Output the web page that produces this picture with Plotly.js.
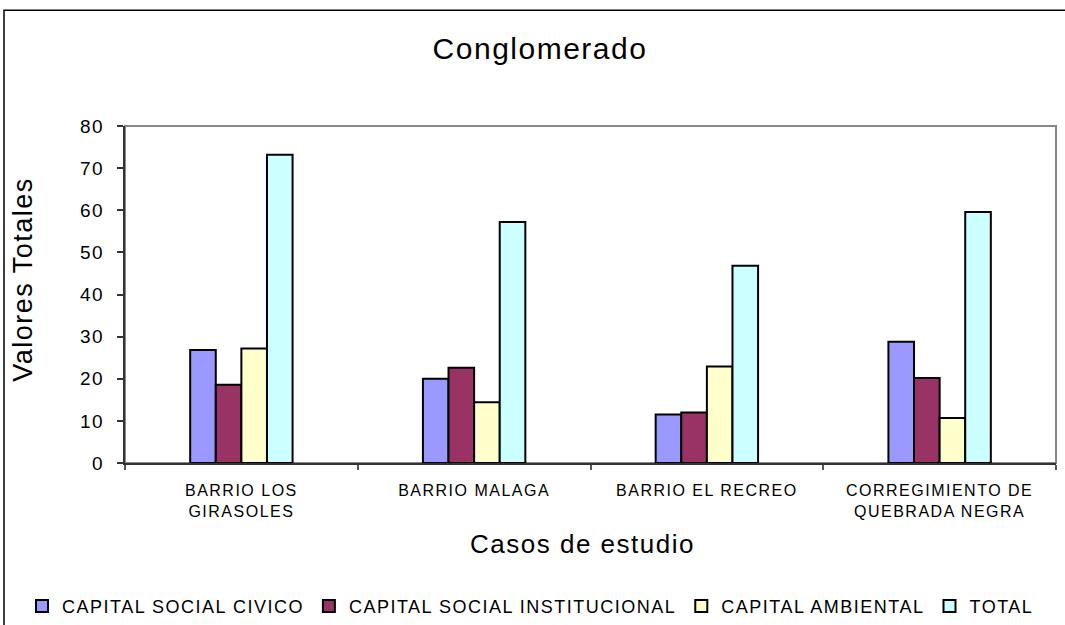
<!DOCTYPE html>
<html>
<head>
<meta charset="utf-8">
<script src="https://cdn.plot.ly/plotly-3.0.1.min.js"></script>
<style>
  html, body { margin: 0; padding: 0; background: #fff; }
  #chart { width: 1065px; height: 625px; }
  svg text { letter-spacing: 1.5px; }
</style>
</head>
<body>
<div id="chart"></div>
<script>
const categories = [
  "BARRIO LOS<br>GIRASOLES",
  "BARRIO MALAGA",
  "BARRIO EL RECREO",
  "CORREGIMIENTO DE<br>QUEBRADA NEGRA"
];
const seriesNames = [
  "CAPITAL SOCIAL CIVICO",
  "CAPITAL SOCIAL INSTITUCIONAL",
  "CAPITAL AMBIENTAL",
  "TOTAL"
];
const civico        = [26.8, 20.0, 11.5, 28.8];
const institucional = [18.6, 22.6, 12.0, 20.2];
const ambiental     = [27.2, 14.4, 22.9, 10.7];
const total         = [73.2, 57.2, 46.8, 59.6];
const yTickVals = [0, 10, 20, 30, 40, 50, 60, 70, 80];

const colors = ["#9999FF", "#993366", "#FFFFCC", "#CCFFFF"];
const values = [civico, institucional, ambiental, total];

const FONT = "Liberation Sans, Arial, sans-serif";

const traces = values.map((v, i) => ({
  type: "bar",
  name: seriesNames[i],
  x: categories,
  y: v,
  marker: { color: colors[i], line: { color: "#000", width: 2 } },
  hoverinfo: "x+y+name"
}));

const W = 1065, H = 625;
const L = 125, T = 126, B = 161.5, R = 9;
const plotH = H - T - B;
const plotW = W - L - R;

const layout = {
  width: W,
  height: H,
  margin: { l: L, r: R, t: T, b: B, pad: 0, autoexpand: false },
  paper_bgcolor: "#fff",
  plot_bgcolor: "#fff",
  font: { family: FONT, color: "#000" },
  barmode: "group",
  bargap: 0.56,
  bargroupgap: 0,
  showlegend: true,
  title: {
    text: "Conglomerado",
    font: { size: 30, family: FONT, color: "#000" },
    x: 540 / W, xanchor: "center",
    y: 1 - 48 / H, yanchor: "middle"
  },
  xaxis: {
    type: "category",
    tickson: "boundaries",
    ticks: "outside",
    ticklen: 5,
    tickcolor: "#555",
    tickwidth: 1.5,
    showline: true,
    linecolor: "#333",
    linewidth: 2,
    showgrid: false,
    zeroline: false,
    automargin: false,
    tickfont: { size: 16, family: FONT, color: "#000" },
    ticklabelstandoff: 12,
    fixedrange: true
  },
  yaxis: {
    range: [0, 80],
    tickvals: yTickVals,
    ticktext: yTickVals.map(String),
    ticks: "outside",
    ticklen: 6,
    tickcolor: "#333",
    tickwidth: 1.5,
    showline: true,
    linecolor: "#333",
    linewidth: 2,
    showgrid: false,
    zeroline: false,
    automargin: false,
    tickfont: { size: 19, family: FONT, color: "#000" },
    ticklabelstandoff: 9,
    fixedrange: true
  },
  legend: {
    orientation: "h",
    xref: "paper",
    yref: "paper",
    x: (22 - L) / plotW,
    xanchor: "left",
    y: -(607 - (H - B)) / plotH,
    yanchor: "middle",
    font: { size: 18, family: FONT, color: "#000" },
    itemwidth: 30,
    bgcolor: "rgba(0,0,0,0)",
    traceorder: "normal"
  },
  annotations: [
    {
      text: "Valores Totales",
      xref: "paper", yref: "paper",
      x: (23 - L) / plotW, y: (H - B - 280) / plotH,
      xanchor: "center", yanchor: "middle",
      textangle: -90, showarrow: false,
      font: { size: 27, family: FONT, color: "#000" }
    },
    {
      text: "Casos de estudio",
      xref: "paper", yref: "paper",
      x: (582 - L) / plotW, y: -(545 - (H - B)) / plotH,
      xanchor: "center", yanchor: "middle",
      showarrow: false,
      font: { size: 26, family: FONT, color: "#000" }
    }
  ],
  shapes: [
    {
      type: "rect", xref: "paper", yref: "paper", layer: "below",
      x0: 0, x1: 1, y0: 0, y1: 1,
      line: { color: "#888", width: 2 }
    },
    {
      type: "rect", xref: "paper", yref: "paper", layer: "above",
      x0: (4 - L) / plotW, x1: (W + 30 - L) / plotW,
      y0: -(B + 30) / plotH, y1: (plotH + T - 10) / plotH,
      line: { color: "#000", width: 1.5 }
    }
  ]
};

Plotly.newPlot("chart", traces, layout, { displayModeBar: false });
</script>
</body>
</html>
